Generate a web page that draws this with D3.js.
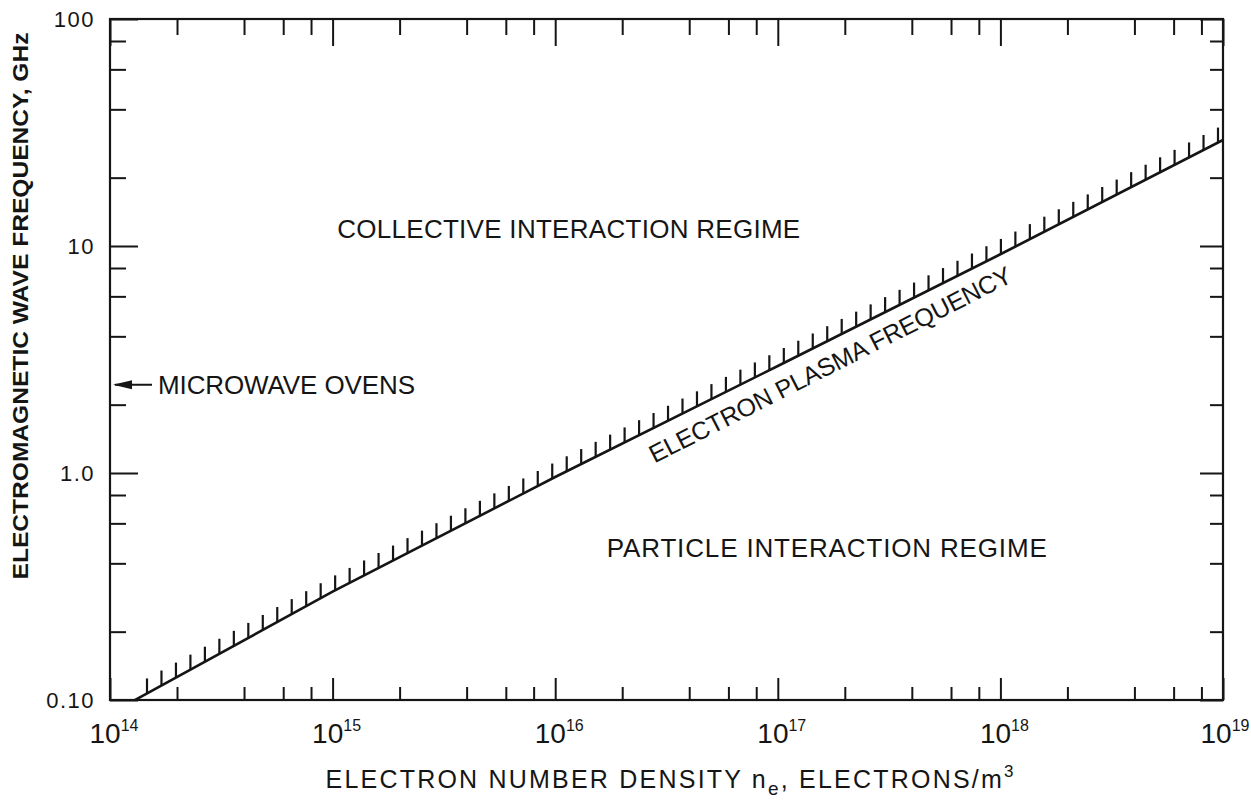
<!DOCTYPE html>
<html>
<head>
<meta charset="utf-8">
<script src="https://cdn.jsdelivr.net/npm/d3@7"></script>
<style>
  body { margin: 0; background: #fff; }
  text { font-family: "Liberation Sans", Arial, sans-serif; fill: #151515; }
</style>
</head>
<body>
<div id="chart"></div>
<script>
// values
var densityDecades = [1e14, 1e15, 1e16, 1e17, 1e18, 1e19];
var densityExponents = ["14", "15", "16", "17", "18", "19"];
var freqDecades = [0.1, 1, 10, 100];
var freqLabels = ["0.10", "1.0", "10", "100"];
var minorSteps = [2, 4, 6, 8];

// electron plasma frequency line (GHz at each density decade)
var plasmaDensity = [1e14, 1e15, 1e16, 1e17, 1e18, 1e19];
var plasmaFreq = [0.087, 0.30, 0.96, 2.96, 9.2, 29.3];

var ovenFreq = 2.45;
var regimeText = ["COLLECTIVE INTERACTION REGIME", "PARTICLE INTERACTION REGIME"];
var regimeDensity = [1.15e16, 1.66e17];
var regimeFreq = [10.8, 0.427];
var lineLabelDensity = 1.55e17;

var W = 1251, H = 809;
var margin = {top: 19, right: 28, bottom: 109, left: 110};
var width = W - margin.left - margin.right;
var height = H - margin.top - margin.bottom;

var svg = d3.select("#chart").append("svg")
    .attr("width", W)
    .attr("height", H)
  .append("g")
    .attr("transform", "translate(" + margin.left + "," + margin.top + ")");

var x = d3.scaleLog().domain([1e14, 1e19]).range([0, width]);
var y = d3.scaleLog().domain([0.1, 100]).range([height, 0]);

function minorOf(decades) {
  var out = [];
  decades.slice(0, -1).forEach(function(d) {
    minorSteps.forEach(function(m) { out.push(d * m); });
  });
  return out;
}
var xMinor = minorOf(densityDecades);
var yMinor = minorOf(freqDecades);

function styleAxis(g) {
  g.select(".domain").remove();
  g.selectAll(".tick line").attr("stroke", "#151515").attr("stroke-width", 2);
}

// ticks pointing inward on all four sides
svg.append("g").attr("transform", "translate(0," + height + ")")
  .call(d3.axisBottom(x).tickValues(densityDecades).tickSize(-22).tickFormat("")).call(styleAxis);
svg.append("g").attr("transform", "translate(0," + height + ")")
  .call(d3.axisBottom(x).tickValues(xMinor).tickSize(-13).tickFormat("")).call(styleAxis);
svg.append("g")
  .call(d3.axisTop(x).tickValues(densityDecades).tickSize(-27).tickFormat("")).call(styleAxis);
svg.append("g")
  .call(d3.axisTop(x).tickValues(xMinor).tickSize(-16).tickFormat("")).call(styleAxis);
svg.append("g")
  .call(d3.axisLeft(y).tickValues(freqDecades).tickSize(-28).tickFormat("")).call(styleAxis);
svg.append("g")
  .call(d3.axisLeft(y).tickValues(yMinor).tickSize(-16).tickFormat("")).call(styleAxis);
svg.append("g").attr("transform", "translate(" + width + ",0)")
  .call(d3.axisRight(y).tickValues(freqDecades).tickSize(-23).tickFormat("")).call(styleAxis);
svg.append("g").attr("transform", "translate(" + width + ",0)")
  .call(d3.axisRight(y).tickValues(yMinor).tickSize(-13).tickFormat("")).call(styleAxis);

// frame
svg.append("rect")
  .attr("width", width).attr("height", height)
  .attr("fill", "none").attr("stroke", "#151515").attr("stroke-width", 2.2);

// y tick labels
svg.append("g").selectAll("text").data(freqDecades).enter().append("text")
  .attr("x", -15)
  .attr("y", function(d) { return y(d); })
  .attr("dy", "0.36em")
  .attr("text-anchor", "end")
  .style("font-size", "22px")
  .style("letter-spacing", "1.5px")
  .text(function(d, i) { return freqLabels[i]; });

// x tick labels, 10 with superscript exponent
var xl = svg.append("g").selectAll("text").data(densityDecades).enter().append("text")
  .attr("x", function(d) { return Math.min(x(d) + 4, width + 2); })
  .attr("y", height + 43)
  .attr("text-anchor", "middle");
xl.append("tspan").style("font-size", "28px").text("10");
xl.append("tspan").style("font-size", "16px").attr("dy", -12)
  .text(function(d, i) { return densityExponents[i]; });

// plasma frequency line
svg.append("clipPath").attr("id", "plot-clip")
  .append("rect").attr("width", width).attr("height", height);

var pts = plasmaDensity.map(function(d, i) { return [d, plasmaFreq[i]]; });
var line = d3.line().x(function(d) { return x(d[0]); }).y(function(d) { return y(d[1]); });

var logFreq = d3.scaleLinear()
  .domain(plasmaDensity.map(Math.log10))
  .range(plasmaFreq.map(Math.log10));
function freqAt(n) { return Math.pow(10, logFreq(Math.log10(n))); }

var plot = svg.append("g").attr("clip-path", "url(#plot-clip)");
plot.append("path").datum(pts)
  .attr("d", line)
  .attr("fill", "none")
  .attr("stroke", "#151515")
  .attr("stroke-width", 2.6);

// hatching above the line
var hatchCount = 75;
var hatchStart = x.invert(37), hatchEnd = x.invert(width - 5);
var hatchDensity = d3.range(hatchCount).map(function(i) {
  var t = i / (hatchCount - 1);
  return Math.pow(10, Math.log10(hatchStart) + t * (Math.log10(hatchEnd) - Math.log10(hatchStart)));
});
plot.append("g").selectAll("line").data(hatchDensity).enter().append("line")
  .attr("x1", function(d) { return x(d); })
  .attr("x2", function(d) { return x(d); })
  .attr("y1", function(d) { return y(freqAt(d)); })
  .attr("y2", function(d) { return y(freqAt(d)) - 15; })
  .attr("stroke", "#151515")
  .attr("stroke-width", 2.2);

// label along the line
var lx = x(lineLabelDensity), ly = y(freqAt(lineLabelDensity));
var angle = Math.atan2(y(freqAt(1e19)) - y(freqAt(1e17)), x(1e19) - x(1e17)) * 180 / Math.PI;
svg.append("text")
  .attr("transform", "translate(" + lx + "," + ly + ") rotate(" + angle + ")")
  .attr("x", 0).attr("y", 31)
  .attr("text-anchor", "middle")
  .attr("textLength", 403)
  .attr("lengthAdjust", "spacing")
  .style("font-size", "25px")
  .text("ELECTRON PLASMA FREQUENCY");

// regime labels
svg.append("g").selectAll("text").data(regimeText).enter().append("text")
  .attr("x", function(d, i) { return x(regimeDensity[i]); })
  .attr("y", function(d, i) { return y(regimeFreq[i]); })
  .attr("text-anchor", "middle")
  .attr("textLength", function(d, i) { return i === 0 ? 463 : 440; })
  .attr("lengthAdjust", "spacing")
  .style("font-size", "26px")
  .text(function(d) { return d; });

// microwave oven marker
var oy = y(ovenFreq);
svg.append("line")
  .attr("x1", 5).attr("x2", 42)
  .attr("y1", oy).attr("y2", oy)
  .attr("stroke", "#151515").attr("stroke-width", 2);
svg.append("path")
  .attr("d", "M3," + oy + "L22," + (oy - 4.5) + "L22," + (oy + 4.5) + "Z")
  .attr("fill", "#151515");
svg.append("text")
  .attr("x", 48).attr("y", oy)
  .attr("dy", "0.36em")
  .attr("textLength", 257)
  .attr("lengthAdjust", "spacing")
  .style("font-size", "26px")
  .text("MICROWAVE OVENS");

// axis titles
svg.append("text")
  .attr("transform", "rotate(-90)")
  .attr("x", -287)
  .attr("y", -90)
  .attr("dy", "0.36em")
  .attr("text-anchor", "middle")
  .attr("textLength", 547)
  .attr("lengthAdjust", "spacingAndGlyphs")
  .style("font-size", "22px")
  .style("font-weight", "bold")
  .text("ELECTROMAGNETIC WAVE FREQUENCY, GHz");

var xt = svg.append("text")
  .attr("x", width / 2 + 3)
  .attr("y", height + 88)
  .attr("text-anchor", "middle")
  .attr("textLength", 688)
  .attr("lengthAdjust", "spacing")
  .style("font-size", "25px");
xt.append("tspan").text("ELECTRON NUMBER DENSITY n");
xt.append("tspan").attr("dy", 7).style("font-size", "19px").text("e");
xt.append("tspan").attr("dy", -7).text(", ELECTRONS/m");
xt.append("tspan").attr("dy", -11).style("font-size", "17px").text("3");
</script>
</body>
</html>
